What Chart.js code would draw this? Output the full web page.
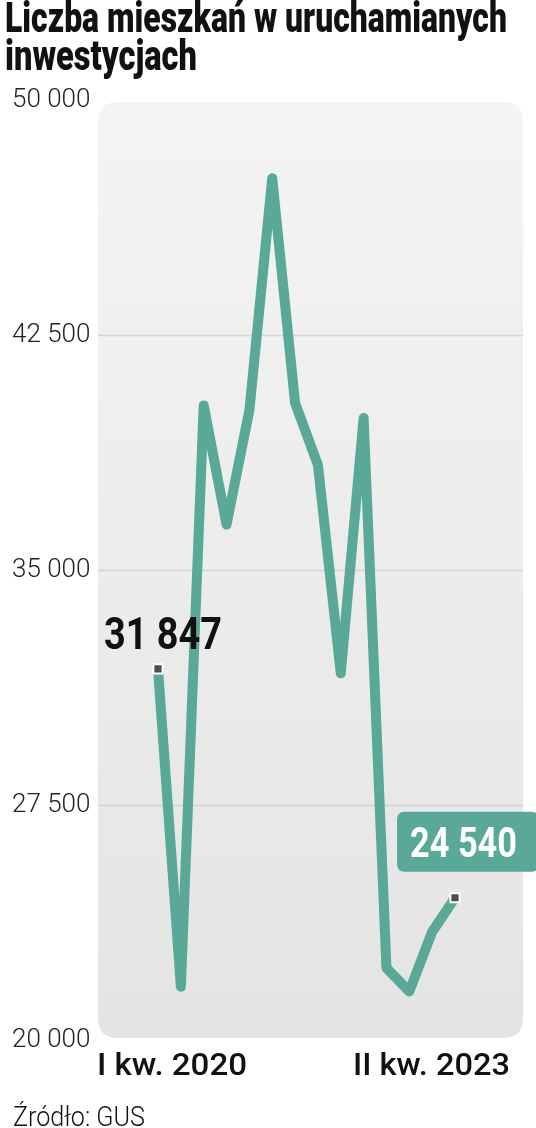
<!DOCTYPE html>
<html><head><meta charset="utf-8">
<script src="https://cdn.jsdelivr.net/npm/chart.js@4"></script>
<style>
html,body{margin:0;padding:0;background:#fff;width:536px;height:1128px;overflow:hidden;}
#wrap{position:relative;width:536px;height:1128px;}
canvas{position:absolute;left:0;top:0;}
.t{position:absolute;left:5px;font-family:Roboto,sans-serif;font-weight:900;font-size:43px;color:#111;white-space:nowrap;transform-origin:0 0;line-height:1;}
.src{position:absolute;left:13px;top:1104px;font-family:Roboto,sans-serif;font-weight:300;font-size:27px;color:#111;white-space:nowrap;transform-origin:0 0;line-height:1;}
</style></head>
<body>
<div id="wrap">
<canvas id="c" width="536" height="1128"></canvas>
<div class="t" id="t1" style="top:-4px">Liczba mieszkań w uruchamianych</div>
<div class="t" id="t2" style="top:34px">inwestycjach</div>
<div class="src" id="src">Źródło: GUS</div>
</div>
<script>
// ---- data ----
const categories = ['I kw. 2020','II kw. 2020','III kw. 2020','IV kw. 2020',
  'I kw. 2021','II kw. 2021','III kw. 2021','IV kw. 2021',
  'I kw. 2022','II kw. 2022','III kw. 2022','IV kw. 2022',
  'I kw. 2023','II kw. 2023'];
const values = [31847, 21700, 40250, 36450, 40100, 47500, 40330, 38350, 31700, 39850, 22300, 21550, 23450, 24540];
const yTicks = [20000, 27500, 35000, 42500, 50000];
const firstLabel = '31 847';
const lastLabel = '24 540';

function fitWidth(id, w){
  const el = document.getElementById(id);
  const r = el.getBoundingClientRect().width;
  el.style.transform = 'scaleX(' + (w / r) + ')';
}
fitWidth('t1', 502);
fitWidth('t2', 192);
fitWidth('src', 132);

const TEAL = '#5aa898';
const fmt = v => String(v).replace(/\B(?=(\d{3})+(?!\d))/g, '\u00a0');

function fitText(ctx, text, x, y, w, align){
  const m = ctx.measureText(text).width;
  const s = w / m;
  ctx.save();
  ctx.translate(x, y);
  ctx.scale(s, 1);
  ctx.textAlign = 'left';
  ctx.fillText(text, align === 'right' ? -m : 0, 0);
  ctx.restore();
}
function rr(ctx, x, y, w, h, r){
  ctx.beginPath();
  ctx.moveTo(x + r, y);
  ctx.lineTo(x + w - r, y); ctx.quadraticCurveTo(x + w, y, x + w, y + r);
  ctx.lineTo(x + w, y + h - r); ctx.quadraticCurveTo(x + w, y + h, x + w - r, y + h);
  ctx.lineTo(x + r, y + h); ctx.quadraticCurveTo(x, y + h, x, y + h - r);
  ctx.lineTo(x, y + r); ctx.quadraticCurveTo(x, y, x + r, y);
  ctx.closePath();
}

const deco = {
  id: 'deco',
  beforeDatasetsDraw(chart){
    const {ctx, chartArea: a, scales: {y}} = chart;
    const L = a.left - 60, R = a.right + 68;
    const T = y.getPixelForValue(50000) + 2, B = y.getPixelForValue(20000) - 2;
    ctx.save();
    const g = ctx.createLinearGradient(0, T, 0, B);
    g.addColorStop(0, '#f4f4f4');
    g.addColorStop(1, '#e4e4e4');
    ctx.fillStyle = g;
    rr(ctx, L, T, R - L, B - T, 20);
    ctx.fill();
    ctx.strokeStyle = '#d3d3d3';
    ctx.lineWidth = 1.5;
    yTicks.slice(1, -1).forEach(v => {
      const py = Math.round(y.getPixelForValue(v)) + 0.5;
      ctx.beginPath(); ctx.moveTo(L, py); ctx.lineTo(R, py); ctx.stroke();
    });
    ctx.restore();
  },
  afterDatasetsDraw(chart){
    const {ctx} = chart;
    const pts = chart.getDatasetMeta(0).data;
    const p0 = pts[0], pN = pts[pts.length - 1];
    ctx.save();
    ctx.textBaseline = 'alphabetic';
    // first value
    ctx.fillStyle = '#111';
    ctx.font = '700 44px Roboto';
    fitText(ctx, firstLabel, p0.x - 54, p0.y - 20, 118);
    // last value box
    ctx.fillStyle = TEAL;
    rr(ctx, pN.x - 58, pN.y - 86, 142, 60, 8);
    ctx.fill();
    ctx.fillStyle = '#fff';
    ctx.font = '700 42px Roboto';
    fitText(ctx, lastLabel, pN.x - 45, pN.y - 41, 107);
    // x end labels
    ctx.fillStyle = '#111';
    ctx.font = '500 31px Roboto';
    fitText(ctx, categories[0], 97, 1075, 150);
    fitText(ctx, categories[categories.length - 1], 510, 1075, 157, 'right');
    ctx.restore();
  }
};

new Chart(document.getElementById('c'), {
  type: 'line',
  data: {
    labels: categories,
    datasets: [{
      data: values,
      borderColor: TEAL,
      borderWidth: 10,
      borderJoinStyle: 'round',
      borderCapStyle: 'round',
      tension: 0,
      fill: false,
      clip: false,
      pointStyle: 'rect',
      pointRadius: values.map((v, i) => (i === 0 || i === values.length - 1) ? 6.5 : 0),
      pointHoverRadius: 0,
      pointBackgroundColor: '#4d4d4d',
      pointBorderColor: '#ffffff',
      pointBorderWidth: 2
    }]
  },
  options: {
    responsive: false,
    animation: false,
    devicePixelRatio: 1,
    layout: {padding: {left: 12, right: 81, top: 100, bottom: 88}},
    plugins: {legend: {display: false}, tooltip: {enabled: false}},
    scales: {
      x: {type: 'category', display: false, offset: false},
      y: {
        min: 20000, max: 50000,
        afterBuildTicks: s => { s.ticks = yTicks.map(v => ({value: v})); },
        afterFit: s => { s.width = 146; },
        grid: {display: false},
        border: {display: false},
        ticks: {
          crossAlign: 'far',
          padding: 0,
          color: '#222',
          font: {family: 'Roboto', weight: '300', size: 26},
          callback: v => fmt(v)
        }
      }
    }
  },
  plugins: [deco]
});
</script>
</body></html>
